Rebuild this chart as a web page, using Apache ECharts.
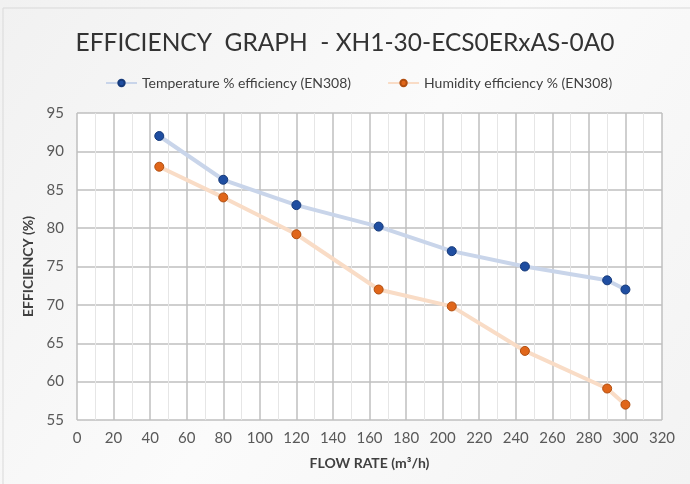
<!DOCTYPE html>
<html>
<head>
<meta charset="utf-8">
<script src="https://cdn.jsdelivr.net/npm/echarts@6/dist/echarts.min.js"></script>
<style>
html,body{margin:0;padding:0;background:#fff;}
#c{width:690px;height:484px;}
</style>
</head>
<body>
<div id="c"></div>
<script>
const titleText = 'EFFICIENCY  GRAPH  - XH1-30-ECS0ERxAS-0A0';
const seriesNames = ['Temperature % efficiency (EN308)', 'Humidity efficiency % (EN308)'];
const flowRates = [45, 80, 120, 165, 205, 245, 290, 300];
const tempEff = [92.0, 86.3, 83.0, 80.2, 77.0, 75.0, 73.2, 72.0];
const humEff = [88.0, 84.0, 79.2, 72.0, 69.8, 64.0, 59.1, 57.0];
const xAxisName = 'FLOW RATE (m\u00B3/h)';
const yAxisName = 'EFFICIENCY (%)';

const chart = echarts.init(document.getElementById('c'), null, {renderer: 'canvas'});
const font = 'Lato, "Open Sans", sans-serif';
chart.setOption({
  animation: false,
  backgroundColor: {
    type: 'linear', x: 0, y: 0, x2: 1, y2: 1,
    colorStops: [{offset: 0, color: '#f1f1f1'}, {offset: 0.5, color: '#fbfbfb'}, {offset: 1, color: '#f3f3f3'}]
  },
  graphic: [{
    type: 'rect', shape: {x: 3, y: 8, width: 700, height: 500},
    style: {fill: 'none', stroke: '#d9d9d9', lineWidth: 1}, silent: true
  }],
  title: {
    text: titleText, left: 'center', top: 26,
    textStyle: {fontFamily: font, fontSize: 24.5, fontWeight: 'normal', color: '#333333'}
  },
  legend: {
    top: 71, left: 100, itemGap: 36, itemWidth: 31, itemHeight: 8,
    textStyle: {fontFamily: font, fontSize: 14, color: '#404040'},
    data: seriesNames
  },
  grid: {left: 77, right: 28, top: 113, bottom: 64, show: true, backgroundColor: '#ffffff', borderWidth: 0},
  xAxis: {
    type: 'value', min: 0, max: 320, interval: 20,
    name: xAxisName, nameLocation: 'middle', nameGap: 36,
    nameTextStyle: {fontFamily: font, fontSize: 14, fontWeight: 'bold', color: '#404040'},
    axisLine: {show: false}, axisTick: {show: false},
    axisLabel: {fontFamily: font, fontSize: 15, color: '#595959', margin: 11},
    splitLine: {show: true, lineStyle: {color: '#bfbfbf', width: 1.5}},
    minorTick: {show: false, splitNumber: 2},
    minorSplitLine: {show: true, lineStyle: {color: '#e6e6e6', width: 1}}
  },
  yAxis: {
    type: 'value', min: 55, max: 95, interval: 5,
    name: yAxisName, nameLocation: 'middle', nameGap: 33,
    nameTextStyle: {fontFamily: font, fontSize: 14, fontWeight: 'bold', color: '#404040'},
    axisLine: {show: false}, axisTick: {show: false},
    axisLabel: {fontFamily: font, fontSize: 15, color: '#595959', margin: 13},
    splitLine: {show: true, lineStyle: {color: '#bfbfbf', width: 1.5}}
  },
  series: [
    {
      name: seriesNames[0], type: 'line',
      data: flowRates.map((x, i) => [x, tempEff[i]]),
      symbol: 'circle', symbolSize: 9,
      lineStyle: {color: '#c9d5ea', width: 4},
      itemStyle: {color: '#1f4ea1', borderColor: '#163a7a', borderWidth: 1}
    },
    {
      name: seriesNames[1], type: 'line',
      data: flowRates.map((x, i) => [x, humEff[i]]),
      symbol: 'circle', symbolSize: 9,
      lineStyle: {color: '#f9dcc6', width: 4},
      itemStyle: {color: '#e0661a', borderColor: '#b04e10', borderWidth: 1}
    }
  ]
});
</script>
</body>
</html>
